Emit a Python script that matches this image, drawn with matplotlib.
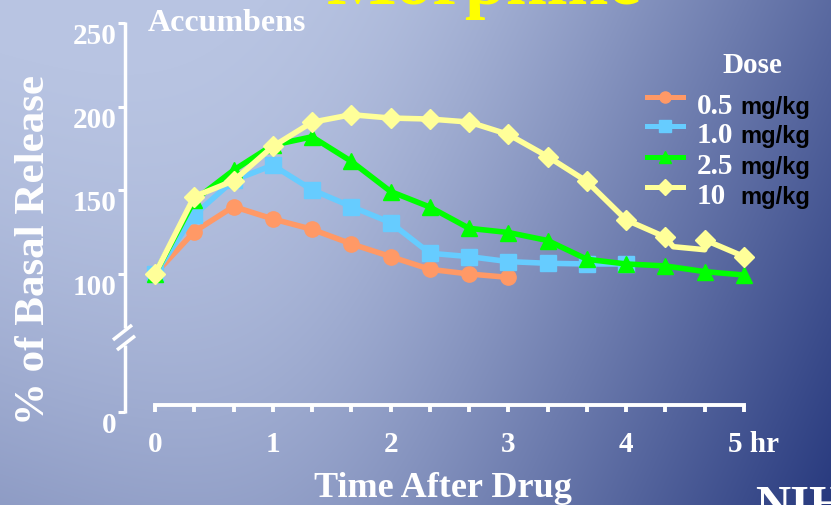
import numpy as np
import matplotlib
matplotlib.use('Agg')
import matplotlib.pyplot as plt

plt.rcParams['font.family'] = 'Liberation Serif'
plt.rcParams['font.weight'] = 'bold'

########## Data ##########
time_min = [0, 20, 40, 60, 80, 100, 120, 140, 160, 180, 200, 220, 240, 260, 280, 300]
time_hr = [t / 60 for t in time_min]

dose_05 = [100, 125.3, 140.3, 132.9, 126.7, 118.0, 110.4, 102.8, 100.0, 98.0]
dose_10 = [100, 135.3, 156.0, 165.0, 150.3, 140.3, 130.7, 112.4, 110.4, 107.4, 106.4, 106.0, 106.0]
dose_25 = [100, 144.0, 162.0, 177.0, 182.0, 167.3, 149.3, 140.0, 127.3, 124.8, 120.0, 108.8, 106.0, 104.8, 101.4, 99.4]
dose_100 = [100, 146.3, 155.7, 176.2, 190.7, 195.2, 193.2, 192.6, 190.8, 183.4, 170.2, 155.3, 132.3, 122.0, 120.4, 110.4]

# the 10 mg/kg trace sags between the 4h20 and 4h40 samples
sag_hr = [4.40, 4.667]
sag_val = [116.3, 114.5]

dose_labels = ['0.5', '1.0', '2.5', '10']
colors = ['#FF9966', '#66CCFF', '#00FF00', '#FFFF99']
markers = ['o', 's', '^', 'D']

yticks = [100, 150, 200, 250]
ZERO_POS = 17.53   # where "0" sits below the axis break

########## Figure + background ##########
W, H = 831, 505
fig = plt.figure(figsize=(W / 100, H / 100), dpi=100)

# diagonal slide gradient, light top-left -> navy bottom-right
yy, xx = np.mgrid[0:H, 0:W].astype(float)
diag = 0.213 * xx + 0.097 * yy - 82
left = 0.14 * yy - 27 - 0.05 * xx
k = 18.0
drop = k * np.logaddexp(np.logaddexp(diag / k, left / k), 0.0) - 0.3 * k  # smooth max
s = np.clip(drop / 144, 0, 1)[..., None]
light = np.array([184, 196, 226]) / 255
dark = np.array([34, 52, 122]) / 255
bg = light + s * (dark - light)

bg_ax = fig.add_axes([0, 0, 1, 1])
bg_ax.imshow(bg, aspect='auto', interpolation='bilinear')
bg_ax.axis('off')

########## Main axes ##########
ax = fig.add_axes([125 / W, 93 / H, 635 / W, 389 / H])
ax.patch.set_visible(False)
px_hr = 117.8
ax.set_xlim(-30 / px_hr, 605 / px_hr)
ax.set_ylim(ZERO_POS, 250)

ax.plot(time_hr[:len(dose_05)], dose_05, color=colors[0], lw=4, marker='o', ms=11,
        mec=colors[0], zorder=3, clip_on=False)
ax.plot(time_hr[:len(dose_10)], dose_10, color=colors[1], lw=4, marker='s', ms=11,
        mec=colors[1], zorder=4, clip_on=False)
ax.plot(time_hr, dose_25, color=colors[2], lw=4, marker='^', ms=12,
        mec=colors[2], zorder=5, clip_on=False)

x100 = time_hr[:14] + sag_hr + time_hr[14:]
y100 = dose_100[:14] + sag_val + dose_100[14:]
mk100 = list(range(14)) + [16, 17]
ax.plot(x100, y100, color=colors[3], lw=4, marker='D', ms=10, markevery=mk100,
        mec=colors[3], zorder=6, clip_on=False)

# axes in white, y axis broken between 0 and 100
for sp in ['top', 'right', 'left']:
    ax.spines[sp].set_visible(False)
ax.spines['bottom'].set_position(('data', 21.7))
ax.spines['bottom'].set_bounds(0, 5)
ax.spines['bottom'].set_color('white')
ax.spines['bottom'].set_linewidth(2.8)

ytr = ax.get_yaxis_transform()
kw = dict(transform=ytr, color='white', lw=2.5, clip_on=False, solid_capstyle='butt')
ax.plot([0, 0], [67.7, 250.8], **kw)
ax.plot([0, 0], [ZERO_POS - 0.8, 57.6], **kw)
ax.plot([-12 / 635, 7 / 635], [60.6, 69.5], **kw)
ax.plot([-8 / 635, 10 / 635], [54.6, 63.0], **kw)

ax.set_yticks([ZERO_POS] + yticks, ['0'] + [str(v) for v in yticks])
ax.tick_params(axis='y', colors='white', direction='out', length=5, width=2.2,
               labelsize=21, pad=1)
for lbl in ax.get_yticklabels():
    lbl.set_va('top')

ax.set_xticks([0, 1, 2, 3, 4, 5], ['0', '1', '2', '3', '4', ''])
ax.set_xticks([t / 60 for t in time_min if t % 60], minor=True)
ax.tick_params(axis='x', which='both', colors='white', direction='out', length=5,
               width=2.8, labelsize=21, pad=14)

fig.text(728 / W, (H - 452) / H, '5 hr', color='white', fontsize=21, ha='left', va='baseline')

########## Titles and labels ##########
fig.text(327 / W, (H - 4) / H, 'Morphine', color='#FFFF00', fontsize=53, ha='left', va='baseline')
fig.text(148 / W, (H - 31) / H, 'Accumbens', color='white', fontsize=23, ha='left', va='baseline')
fig.text(443 / W, (H - 497) / H, 'Time After Drug', color='white', fontsize=26,
         ha='center', va='baseline')
fig.text(34 / W, (H - 250) / H, '% of Basal Release', color='white', fontsize=31,
         rotation=90, ha='center', va='center')
fig.text(755 / W, (H - 519) / H, 'NIH', color='white', fontsize=35, ha='left', va='baseline')

########## Legend ##########
fig.text(752 / W, (H - 73) / H, 'Dose', color='white', fontsize=21, ha='center', va='baseline')
row_y = [97, 126, 157, 187]
for lab, c, m, py in zip(dose_labels, colors, markers, row_y):
    yf = (H - py) / H
    ax.plot([647 / W, 665 / W, 683 / W], [yf, yf, yf], transform=fig.transFigure,
            color=c, lw=3.6, marker=m, ms=8, mec=c, markevery=[1], clip_on=False)
    fig.text(697 / W, (H - py - 17) / H, lab, color='white', fontsize=21,
             ha='left', va='baseline')
    fig.text(740 / W, (H - py - 17) / H, 'mg/kg', color='black', fontsize=17,
             family='Liberation Sans', ha='left', va='baseline')

fig.savefig('out.png', dpi=100)
